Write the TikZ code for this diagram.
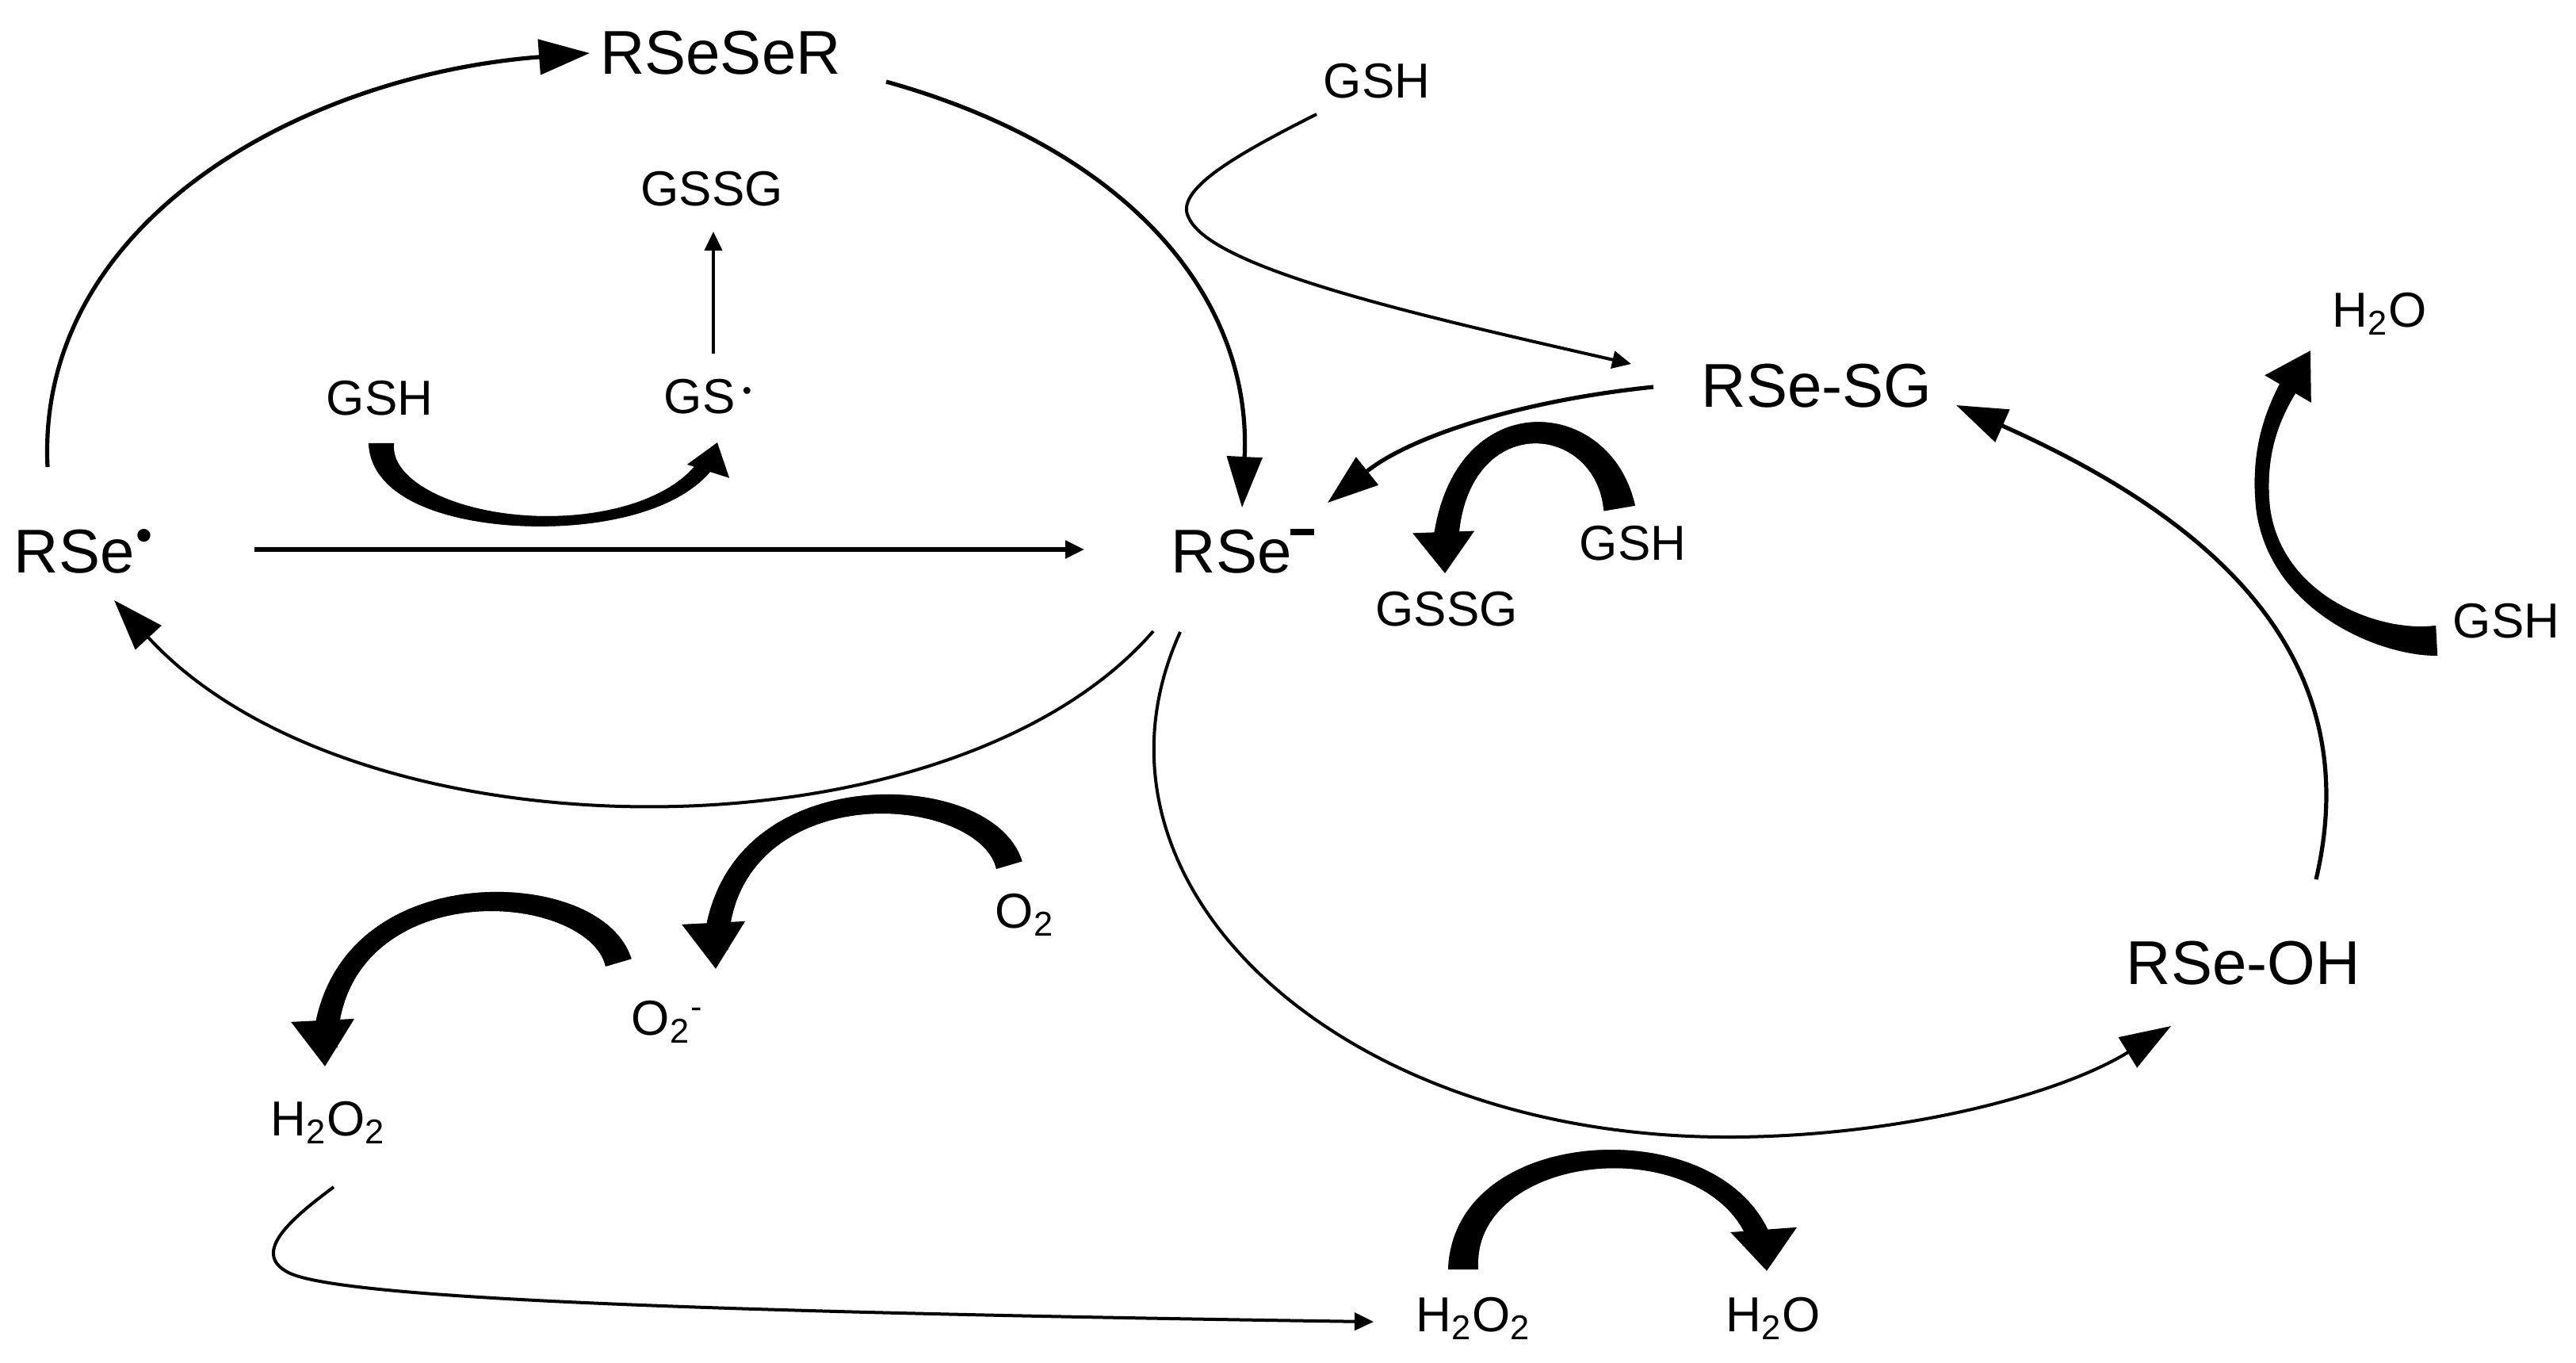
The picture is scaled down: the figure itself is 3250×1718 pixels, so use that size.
\documentclass[tikz,border=0pt]{standalone}
\usepackage{fontspec}
\setmainfont{Liberation Sans}
\usetikzlibrary{arrows.meta,decorations.markings}
\tikzset{
  big/.style={font=\fontsize{19.5pt}{23pt}\selectfont, inner sep=0pt, anchor=base},
  small/.style={font=\fontsize{15.5pt}{18pt}\selectfont, inner sep=0pt, anchor=base},
  conn/.style={line width=1.3pt},
  thinconn/.style={line width=1pt},
  bighead/.style={-{Triangle[length=16pt,width=11pt]}},
  smallhead/.style={-{Triangle[length=6pt,width=5.5pt]}},
  band/.style n args={3}{postaction={decorate,decoration={markings,
     mark=between positions 0 and -7pt step 0.4pt with {%
       \pgfmathsetmacro\bpos{\pgfkeysvalueof{/pgf/decoration/mark info/distance from start}/\pgfdecoratedpathlength}%
       \pgfmathsetmacro\bw{0.5*((#1)*2*(\bpos-0.5)*(\bpos-1)-(#2)*4*\bpos*(\bpos-1)+(#3)*2*\bpos*(\bpos-0.5))}%
       \fill (-0.3pt,-\bw pt) rectangle (0.3pt,\bw pt);}}}},
  bhead/.style 2 args={postaction={decorate,decoration={markings,
     mark=at position 0.9995 with {\fill (0pt,0pt) -- (-#1,0.5*#2) -- (-#1,-0.5*#2) -- cycle;}}}},
}
\begin{document}
\begin{tikzpicture}[x=0.25pt,y=-0.25pt]
\path[fill=white] (0,0) rectangle (3250,1718);
\useasboundingbox (0,0) rectangle (3250,1718);

% nodes
\node[big] (rseser) at (909,93) {RSeSeR};
\node[big,anchor=base west] (rsedot) at (17,722) {RSe\kern0.5pt\raisebox{6.7pt}{\fontsize{15pt}{15pt}\selectfont\textbullet}};
\node[big,anchor=base west] (rseminus) at (1477,722) {RSe\kern-0.3pt\rule[11.75pt]{7.5pt}{2pt}};
\node[big] (rsesg) at (2292,513) {RSe-SG};
\node[big] (rseoh) at (2830,1241) {RSe-OH};
\node[small] (gssgA) at (898,259) {GSSG};
\node[small] (gshA) at (479,523) {GSH};
\node[small,anchor=base west] (gsrad) at (837,521) {GS\kern2.4pt\raisebox{4.4pt}{\fontsize{8pt}{8pt}\selectfont\textbullet}};
\node[small] (gshB) at (1737,123) {GSH};
\node[small] (gshC) at (2060,706) {GSH};
\node[small] (gssgB) at (1825,789) {GSSG};
\node[small,anchor=base west] (h2oA) at (2942,412) {H\textsubscript{2}O};
\node[small] (gshD) at (3162,804) {GSH};
\node[small,anchor=base west] (otwo) at (1255,1170) {O\textsubscript{2}};
\node[small,anchor=base west] (otwominus) at (796,1305) {O\textsubscript{2}\textsuperscript{-}};
\node[small,anchor=base west] (htwootwoA) at (341,1432) {H\textsubscript{2}O\textsubscript{2}};
\node[small,anchor=base west] (htwootwoB) at (1786,1679) {H\textsubscript{2}O\textsubscript{2}};
\node[small,anchor=base west] (h2oB) at (2177,1679) {H\textsubscript{2}O};

% thin connectors
\draw[conn,bighead] ([shift={(43,-133)}]rsedot.base west) .. controls (45,280) and (380,95) .. ([shift={(-165,-26)}]rseser.base);
\draw[conn,bighead] ([shift={(209,10)}]rseser.base) .. controls (1430,190) and (1580,380) .. ([shift={(90,-82)}]rseminus.base west);
\draw[conn,smallhead] ([shift={(304,-29)}]rsedot.base west) -- ([shift={(-109,-29)}]rseminus.base west);
\draw[thinconn,bighead] ([shift={(-22,74)}]rseminus.base west) .. controls (1200,1090) and (450,1090) .. ([shift={(127,35)}]rsedot.base west);
\draw[thinconn,bighead] ([shift={(12,75)}]rseminus.base west) .. controls (1345,1113) and (1686,1434) .. (2180,1434) .. controls (2384,1434) and (2590,1385) .. ([shift={(-91,53)}]rseoh.base);
\draw[conn,bighead] ([shift={(92,-132)}]rseoh.base) .. controls (2990,820) and (2780,650) .. ([shift={(176,-2)}]rsesg.base);
\draw[thinconn,smallhead] ([shift={(-76,21)}]gshB.base) .. controls (1560,195) and (1480,240) .. (1500,275) .. controls (1530,340) and (1800,400) .. ([shift={(-234,-54)}]rsesg.base);
\draw[conn,bighead] ([shift={(-206,-25)}]rsesg.base) .. controls (1920,505) and (1780,550) .. ([shift={(198,-88)}]rseminus.base west);
\draw[thinconn,smallhead] ([shift={(63,-75)}]gsrad.base west) -- ([shift={(2,33)}]gssgA.base);
\draw[thinconn,smallhead] ([shift={(80,65)}]htwootwoA.base west) .. controls (370,1535) and (315,1580) .. (364,1605) .. controls (430,1638) and (900,1655) .. ([shift={(-53,-12)}]htwootwoB.base west);

% thick curved arrows
\path[band={8}{3.2}{5.8},bhead={9.5pt}{14pt}] ([shift={(2,37)}]gshA.base) .. controls (481,680) and (860,700) .. ([shift={(68,37)}]gsrad.base west);
\path[band={10}{6.5}{9},bhead={13pt}{19.5pt}] ([shift={(-17,-66)}]gshC.base) .. controls (2020,505) and (1815,500) .. ([shift={(-2,-66)}]gssgB.base);
\path[band={9.5}{4.5}{7},bhead={14pt}{17pt}] ([shift={(-89,4)}]gshD.base) .. controls (3000,812) and (2870,760) .. (2855,640) .. controls (2845,540) and (2888,488) .. ([shift={(-27,30)}]h2oA.base west);
\path[band={8.5}{5.8}{8.5},bhead={14.5pt}{20pt}] ([shift={(18,-80)}]otwo.base west) .. controls (1240,978) and (890,965) .. ([shift={(107,-83)}]otwominus.base west);
\path[band={8.5}{5.8}{8.5},bhead={14.5pt}{20pt}] ([shift={(-16,-92)}]otwominus.base west) .. controls (747,1101) and (397,1088) .. ([shift={(69,-87)}]htwootwoA.base west);
\path[band={9.5}{5.8}{8},bhead={13pt}{21pt}] ([shift={(60,-79)}]htwootwoB.base west) .. controls (1846,1420) and (2215,1410) .. ([shift={(52,-76)}]h2oB.base west);
\end{tikzpicture}
\end{document}
